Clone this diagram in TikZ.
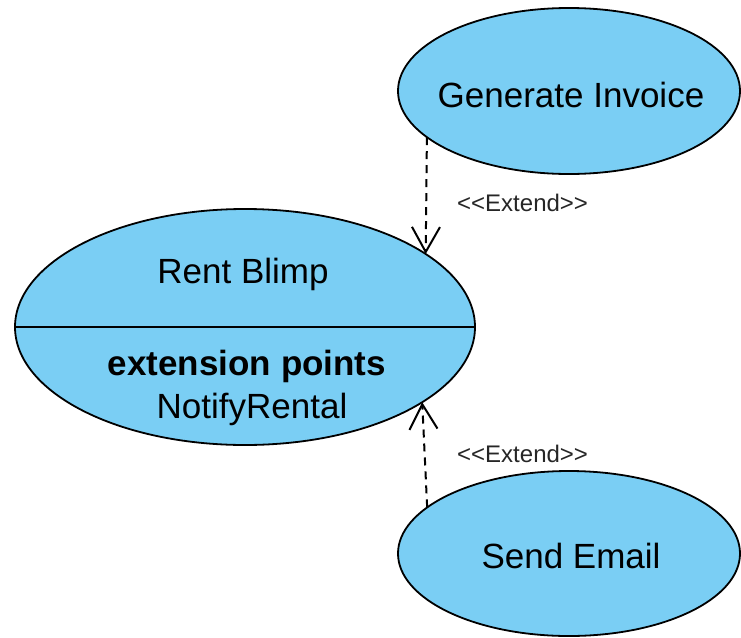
\documentclass[tikz,border=0pt]{standalone}
\usepackage{fontspec}
\setmainfont{Liberation Sans}
\usetikzlibrary{arrows.meta,shapes.geometric}
\definecolor{ucfill}{RGB}{122,206,244}
\tikzset{
  usecase/.style={ellipse, draw=black, line width=1.8pt, fill=ucfill, inner sep=0pt, outer sep=0pt},
  bigtext/.style={font=\fontsize{35}{42}\selectfont, inner sep=0pt, anchor=base},
  smalltext/.style={font=\fontsize{24}{28}\selectfont, text=black!85, inner sep=0pt, anchor=base west},
  extendarrow/.style={line width=2pt, dash pattern=on 8pt off 6pt, -{Straight Barb[length=25pt,width=28pt]}},
}
\begin{document}
\begin{tikzpicture}[x=1pt,y=-1pt]
\useasboundingbox (0,0) rectangle (741,637);
\node[usecase, minimum width=342pt, minimum height=166pt] (gi) at (569,91) {};
\node[usecase, minimum width=460pt, minimum height=236pt] (rb) at (245,327) {};
\node[usecase, minimum width=342pt, minimum height=165pt] (se) at (569,553.5) {};
\draw[line width=1.6pt] (rb.west) -- (rb.east);
\node[bigtext] (gitext) at (571,107) {Generate Invoice};
\node[bigtext] (rbtext) at (243,283) {Rent Blimp};
\node[bigtext] (ext) at (247,375) {\bfseries extension points};
\node[bigtext] (notify) at (252,418) {NotifyRental};
\node[bigtext] (setext) at (571,568) {Send Email};
\draw[extendarrow] (gi.198.6) -- (rb.22.85);
\draw[extendarrow] (se.162.3) -- (rb.337.15);
\node[smalltext] (l1) at (457,211) {<{}<Extend>{}>};
\node[smalltext] (l2) at (457,462) {<{}<Extend>{}>};
\end{tikzpicture}
\end{document}
